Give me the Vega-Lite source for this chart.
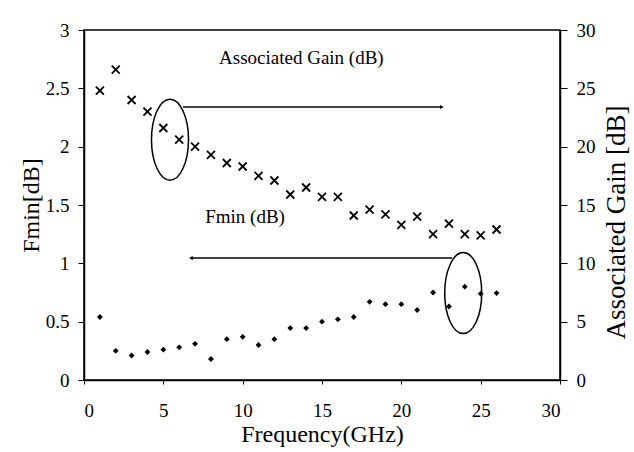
{
  "$schema": "https://vega.github.io/schema/vega-lite/v6.json",
  "width": 476,
  "height": 350,
  "autosize": {"type": "none"},
  "padding": {"left": 84, "top": 30, "right": 74, "bottom": 72},
  "background": "white",
  "config": {
    "font": "Liberation Serif",
    "view": {"stroke": "black", "strokeWidth": 1.5},
    "axis": {
      "grid": false,
      "domainColor": "black",
      "domainWidth": 1.5,
      "tickColor": "black",
      "labelColor": "black",
      "titleColor": "black",
      "labelFont": "Liberation Serif",
      "titleFont": "Liberation Serif",
      "labelFontSize": 19,
      "titleFontSize": 24,
      "titleFontWeight": "normal",
      "tickSize": 6
    }
  },
  "datasets": {
    "meas": [
      {"freq": 1, "fmin": 0.54, "gain": 24.8},
      {"freq": 2, "fmin": 0.25, "gain": 26.6},
      {"freq": 3, "fmin": 0.21, "gain": 24.0},
      {"freq": 4, "fmin": 0.24, "gain": 23.0},
      {"freq": 5, "fmin": 0.26, "gain": 21.6},
      {"freq": 6, "fmin": 0.28, "gain": 20.6},
      {"freq": 7, "fmin": 0.31, "gain": 20.0},
      {"freq": 8, "fmin": 0.18, "gain": 19.3},
      {"freq": 9, "fmin": 0.35, "gain": 18.6},
      {"freq": 10, "fmin": 0.37, "gain": 18.3},
      {"freq": 11, "fmin": 0.30, "gain": 17.5},
      {"freq": 12, "fmin": 0.35, "gain": 17.1},
      {"freq": 13, "fmin": 0.445, "gain": 15.9},
      {"freq": 14, "fmin": 0.445, "gain": 16.5},
      {"freq": 15, "fmin": 0.50, "gain": 15.7},
      {"freq": 16, "fmin": 0.52, "gain": 15.7},
      {"freq": 17, "fmin": 0.54, "gain": 14.1},
      {"freq": 18, "fmin": 0.67, "gain": 14.6},
      {"freq": 19, "fmin": 0.65, "gain": 14.2},
      {"freq": 20, "fmin": 0.65, "gain": 13.3},
      {"freq": 21, "fmin": 0.60, "gain": 14.0},
      {"freq": 22, "fmin": 0.75, "gain": 12.5},
      {"freq": 23, "fmin": 0.63, "gain": 13.4},
      {"freq": 24, "fmin": 0.80, "gain": 12.5},
      {"freq": 25, "fmin": 0.74, "gain": 12.4},
      {"freq": 26, "fmin": 0.745, "gain": 12.9}
    ],
    "labels": [
      {"x": 13.7, "y": 2.76, "label": "Associated Gain (dB)"},
      {"x": 10.15, "y": 1.40, "label": "Fmin (dB)"}
    ],
    "arrows": [
      {"x1": 6.24, "x2": 22.56, "y": 2.34, "hx": 22.56, "dir": "right"},
      {"x1": 6.74, "x2": 23.2, "y": 1.045, "hx": 6.74, "dir": "left"}
    ],
    "ellipses": [
      {"x": 5.42, "y": 2.06},
      {"x": 23.9, "y": 0.745}
    ]
  },
  "layer": [
    {
      "data": {"name": "meas"},
      "mark": {"type": "point", "shape": "diamond", "filled": true, "color": "black", "size": 34, "opacity": 1},
      "encoding": {
        "x": {"field": "freq", "type": "quantitative", "scale": {"domain": [0, 30], "nice": false}, "axis": {"values": [0, 5, 10, 15, 20, 25, 30], "title": "Frequency(GHz)", "tickSize": 4, "labelPadding": 17, "titlePadding": 2}},
        "y": {"field": "fmin", "type": "quantitative", "scale": {"domain": [0, 3], "nice": false}, "axis": {"values": [0, 0.5, 1, 1.5, 2, 2.5, 3], "format": "~g", "title": "Fmin[dB]", "labelPadding": 9, "titlePadding": 2}}
      }
    },
    {
      "data": {"name": "meas"},
      "mark": {"type": "point", "shape": "M-1,-1L1,1M-1,1L1,-1", "filled": false, "color": "black", "size": 64, "strokeWidth": 1.8, "opacity": 1},
      "encoding": {
        "x": {"field": "freq", "type": "quantitative"},
        "y": {"field": "gain", "type": "quantitative", "scale": {"domain": [0, 30], "nice": false}, "axis": {"orient": "right", "values": [0, 5, 10, 15, 20, 25, 30], "title": "Associated Gain [dB]", "titleFontSize": 27, "titleAngle": 270, "titleBaseline": "top", "titleY": 192, "tickSize": 7, "labelPadding": 9, "titlePadding": 8}}
      }
    },
    {
      "data": {"name": "labels"},
      "mark": {"type": "text", "font": "Liberation Serif", "fontSize": 19, "color": "black", "align": "center", "baseline": "middle"},
      "encoding": {
        "x": {"field": "x", "type": "quantitative"},
        "y": {"field": "y", "type": "quantitative", "scale": {"domain": [0, 3], "nice": false}, "axis": null},
        "text": {"field": "label"}
      }
    },
    {
      "data": {"name": "arrows"},
      "mark": {"type": "rule", "color": "black", "strokeWidth": 1.5},
      "encoding": {
        "x": {"field": "x1", "type": "quantitative"},
        "x2": {"field": "x2"},
        "y": {"field": "y", "type": "quantitative", "scale": {"domain": [0, 3], "nice": false}, "axis": null}
      }
    },
    {
      "data": {"name": "arrows"},
      "mark": {"type": "point", "filled": true, "color": "black", "size": 18, "opacity": 1},
      "encoding": {
        "x": {"field": "hx", "type": "quantitative"},
        "y": {"field": "y", "type": "quantitative", "scale": {"domain": [0, 3], "nice": false}, "axis": null},
        "shape": {"field": "dir", "type": "nominal", "scale": {"domain": ["right", "left"], "range": ["triangle-right", "triangle-left"]}, "legend": null}
      }
    },
    {
      "data": {"name": "ellipses"},
      "mark": {"type": "point", "shape": "M0,-1C0.252,-1,0.457,-0.552,0.457,0C0.457,0.552,0.252,1,0,1C-0.252,1,-0.457,0.552,-0.457,0C-0.457,-0.552,-0.252,-1,0,-1Z", "filled": false, "color": "black", "size": 6561, "strokeWidth": 1.5, "opacity": 1},
      "encoding": {
        "x": {"field": "x", "type": "quantitative"},
        "y": {"field": "y", "type": "quantitative", "scale": {"domain": [0, 3], "nice": false}, "axis": null}
      }
    }
  ],
  "resolve": {"scale": {"y": "independent", "shape": "independent"}}
}
